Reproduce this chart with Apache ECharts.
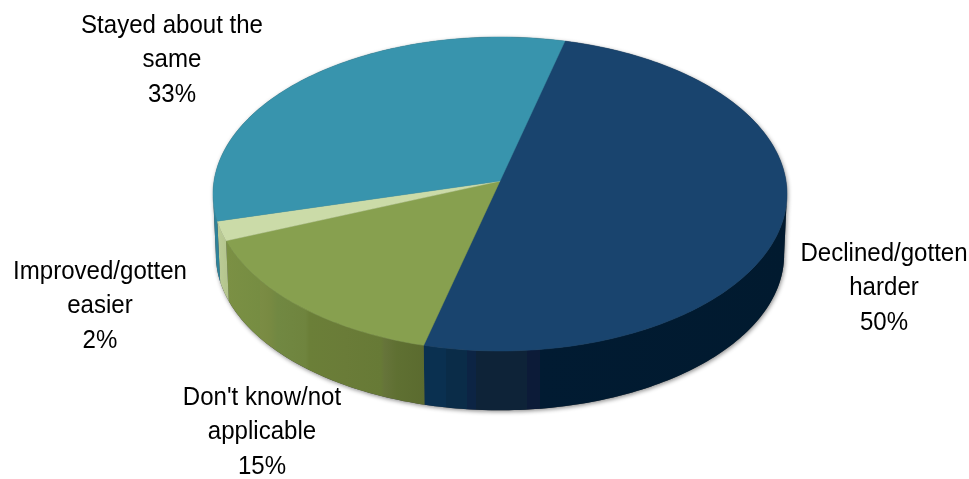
<!DOCTYPE html>
<html>
<head>
<meta charset="utf-8">
<style>html,body{margin:0;padding:0;background:#fff}#c{width:969px;height:479px}</style>
<script src="https://cdn.jsdelivr.net/npm/echarts@6/dist/echarts.min.js"></script>
</head>
<body>
<div id="c"></div>
<script>
const categories = ["Declined/gotten\nharder", "Don't know/not\napplicable", "Improved/gotten\neasier", "Stayed about the\nsame"];
const shares = [50, 15, 2, 33];

// Styling and layout of the tilted disc
const FACE = ['#19446e', '#87a04f', '#cbdba8', '#3894ad'];
const SIDE = [
  [[0,'#0a3050'],[.06,'#0a3050'],[.06,'#0a2c48'],[.12,'#0a2c48'],[.12,'#0c2444'],[.145,'#0c2444'],[.145,'#0e2338'],[.285,'#0e2338'],[.285,'#0c1b38'],[.32,'#0c1b38'],[.32,'#011b32'],[1,'#011a2f']],
  [[0,'#7b9044'],[.17,'#768d42'],[.17,'#7b8c44'],[.22,'#788a42'],[.26,'#718842'],[.4,'#6f843e'],[.42,'#6b7f38'],[.6,'#6a7c38'],[.78,'#677a36'],[.8,'#66743a'],[.86,'#5f7032'],[1,'#5b6b2f']],
  [[0,'#bccc97'],[1,'#b3c48c']],
  [[0,'#2f8299'],[1,'#2f8299']]
];
const LABEL_POS = [[884, 288], [262, 432], [100, 306], [172, 60]];
const START_DEG = 14.2, CX = 500, CY = 181, A = 286, B = 155.9, K = 0.0828;
const DEPTH = 61, BOTTOM_SCALE = 0.99;
const FRONT_FROM = 94.75, FRONT_TO = 265.25; // rim is visible between the disc's widest points

function project(deg, depth, scale) {
  const t = deg * Math.PI / 180, u = Math.sin(t), v = -Math.cos(t), w = 1 - K * v;
  return [CX + scale * A * u / w, CY + depth + scale * B * v / w];
}
function sliceRange(i) {
  const total = shares.reduce((a, b) => a + b, 0);
  let s = 0;
  for (let j = 0; j < i; j++) s += shares[j];
  return [START_DEG + s / total * 360, START_DEG + (s + shares[i]) / total * 360];
}
function arc(a0, a1, depth, scale) {
  const n = Math.max(2, Math.ceil(Math.abs(a1 - a0)));
  const pts = [];
  for (let i = 0; i <= n; i++) pts.push(project(a0 + (a1 - a0) * i / n, depth, scale));
  return pts;
}
function band(a0, a1) {
  return arc(a0, a1, 0, 1).concat(arc(a1, a0, DEPTH, BOTTOM_SCALE));
}
const indexData = shares.map((v, i) => [i, v]);
const chart = echarts.init(document.getElementById('c'), null, {renderer: 'canvas'});
chart.setOption({
  animation: false,
  backgroundColor: '#fff',
  series: [
    { // soft shadow under the disc
      type: 'custom', coordinateSystem: 'none', silent: true, z: 1,
      data: [[0]],
      renderItem() {
        const shapes = [arc(0, 360, 0, 1), band(FRONT_FROM, FRONT_TO)];
        return {type: 'group', children: shapes.map(points => ({
          type: 'polygon', shape: {points},
          style: {fill: '#444', shadowBlur: 4, shadowColor: 'rgba(0,0,0,0.45)', shadowOffsetX: 1, shadowOffsetY: 1.5}
        }))};
      }
    },
    { // rim
      type: 'custom', coordinateSystem: 'none', silent: true, z: 2,
      data: indexData,
      renderItem(params, api) {
        const i = api.value(0), [a0, a1] = sliceRange(i);
        const from = Math.max(a0, FRONT_FROM), to = Math.min(a1, FRONT_TO);
        return {type: 'polygon', shape: {points: band(from, to)},
          style: {fill: new echarts.graphic.LinearGradient(0, 0, 1, 0, SIDE[i].map(s => ({offset: s[0], color: s[1]})))}};
      }
    },
    { // top faces
      type: 'custom', coordinateSystem: 'none', silent: true, z: 3,
      data: indexData,
      renderItem(params, api) {
        const i = api.value(0), [a0, a1] = sliceRange(i);
        const points = [[CX, CY]].concat(arc(a0, a1, 0, 1));
        return {type: 'polygon', shape: {points}, style: {fill: FACE[i], stroke: FACE[i], lineWidth: 0.5}};
      }
    },
    { // labels
      type: 'custom', coordinateSystem: 'none', silent: true, z: 4,
      data: indexData,
      renderItem(params, api) {
        const i = api.value(0);
        return {type: 'text', x: LABEL_POS[i][0], y: LABEL_POS[i][1], scaleX: 0.925, style: {
          text: categories[i] + '\n' + api.value(1) + '%',
          x: 0, y: 0,
          align: 'center', verticalAlign: 'middle',
          font: '26px "Liberation Sans"', lineHeight: 34.5, fill: '#000'
        }};
      }
    }
  ]
});
</script>
</body>
</html>
